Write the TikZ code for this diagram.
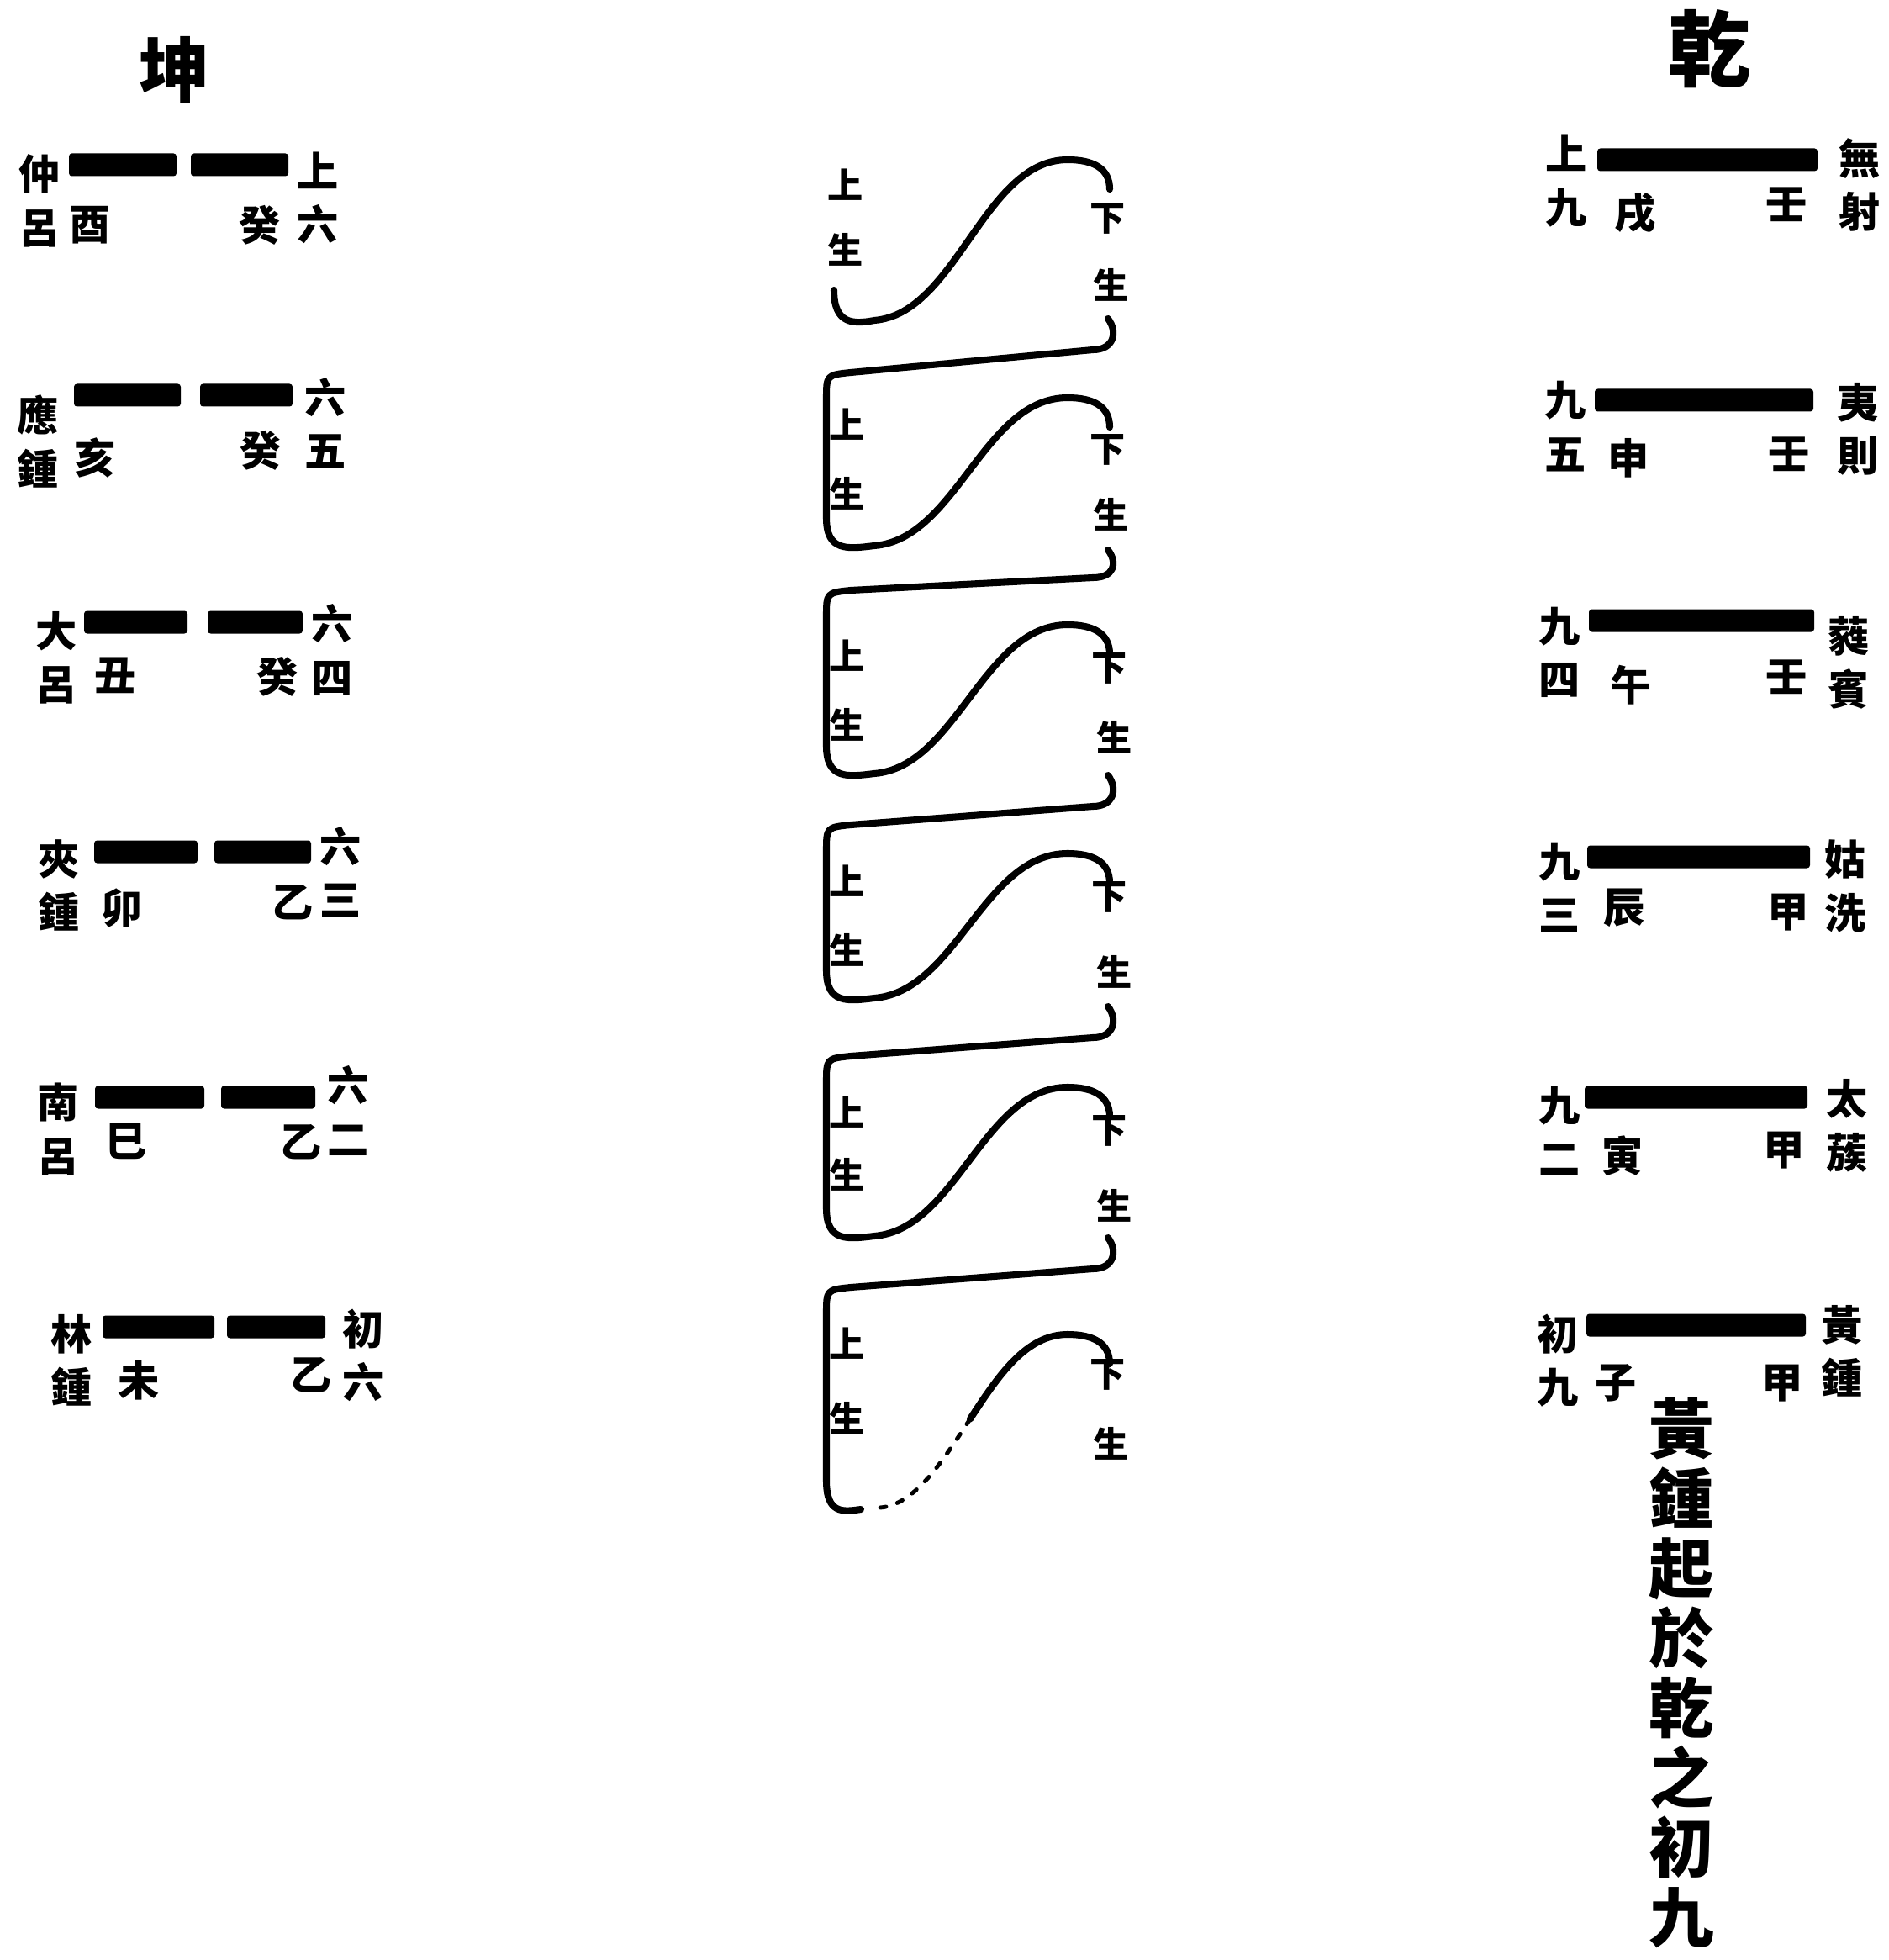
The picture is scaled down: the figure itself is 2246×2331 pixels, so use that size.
\documentclass[tikz,border=0pt]{standalone}
\usepackage{fontspec}
\newfontfamily\cjk{Noto Sans CJK TC}
\newcommand\yaobar[3]{\fill[bar] (#1,#3-13.5) rectangle (#2,#3+13.5);}
\newcommand\lvpiece[5]{% #1 Rt, #2 Hr, #3 Hl, #4 B, #5 P
  \draw[curve] (1318,#1) .. controls (1330,#1+16) and (1325,#2) .. (1300,#2)
    -- (1012,#3) .. controls (983,#3+3) .. (983,#3+32)
    -- (983,#4-35) .. controls (983,#4+5) and (1008,#4+2) .. (1040,#4-2)
    .. controls (1138,#4-10) and (1170,#5) .. (1270,#5)
    .. controls (1300,#5) and (1320,#5+10) .. (1320,#5+35);}
\begin{document}
\begin{tikzpicture}[x=0.1mm,y=-0.1mm,
  lbl/.style={font=\cjk\bfseries\fontsize{14pt}{18pt}\selectfont, inner sep=0pt, align=center},
  midl/.style={font=\cjk\bfseries\fontsize{12pt}{13pt}\selectfont, inner sep=0pt},
  ttl/.style={font=\cjk\bfseries\fontsize{24pt}{28pt}\selectfont, inner sep=0pt},
  bar/.style={fill=black, rounded corners=1pt},
  curve/.style={line width=2.3pt, line cap=round, line join=round}]
\useasboundingbox (0,0) rectangle (2246,2331);

% titles
\node[ttl] (kun) at (208,83) {坤};
\node[ttl, font=\cjk\bfseries\fontsize{28pt}{30pt}\selectfont] (qian) at (2034,58) {乾};

% ---- Kun column ----
\node[lbl] (kn1) at (47,239) {仲\\呂};
\node[lbl] (kz1) at (107,268) {酉};
\node[lbl] (kg1) at (309,268) {癸};
\node[lbl] (kp1) at (378,235) {上\\六};
\yaobar{82}{210}{196} \yaobar{227}{343}{196}

\node[lbl] (kn2) at (45,525) {應\\鍾};
\node[lbl] (kz2) at (113,544) {亥};
\node[lbl] (kg2) at (310,536) {癸};
\node[lbl] (kp2) at (387,503) {六\\五};
\yaobar{88}{215}{470} \yaobar{238}{348}{470}

\node[lbl] (kn3) at (67,782) {大\\呂};
\node[lbl] (kz3) at (137,803) {丑};
\node[lbl] (kg3) at (330,805) {癸};
\node[lbl] (kp3) at (395,773) {六\\四};
\yaobar{100}{223}{740} \yaobar{247}{360}{740}

\node[lbl] (kn4) at (70,1053) {夾\\鍾};
\node[lbl] (kz4) at (145,1080) {卯};
\node[lbl] (kg4) at (348,1073) {乙};
\node[lbl] (kp4) at (405,1037) {六\\三};
\yaobar{112}{235}{1013} \yaobar{255}{370}{1013}

\node[lbl] (kn5) at (69,1343) {南\\呂};
\node[lbl] (kz5) at (150,1358) {巳};
\node[lbl] (kg5) at (358,1358) {乙};
\node[lbl] (kp5) at (414,1321) {六\\二};
\yaobar{113}{243}{1305} \yaobar{263}{375}{1305}

\node[lbl] (kn6) at (85,1618) {林\\鍾};
\node[lbl] (kz6) at (165,1642) {未};
\node[lbl] (kg6) at (370,1635) {乙};
\node[lbl] (kp6) at (432,1612) {初\\六};
\yaobar{122}{255}{1578} \yaobar{270}{387}{1578}

% ---- Qian column ----
\node[lbl] (qp1) at (1863,215) {上\\九};
\node[lbl] (qz1) at (1945,253) {戌};
\node[lbl] (qg1) at (2125,243) {壬};
\node[lbl] (qn1) at (2212,220) {無\\射};
\yaobar{1900}{2162}{190}

\node[lbl] (qp2) at (1862,507) {九\\五};
\node[lbl] (qz2) at (1937,545) {申};
\node[lbl] (qg2) at (2128,540) {壬};
\node[lbl] (qn2) at (2210,510) {夷\\則};
\yaobar{1897}{2157}{476}

\node[lbl] (qp3) at (1855,776) {九\\四};
\node[lbl] (qz3) at (1940,815) {午};
\node[lbl] (qg3) at (2125,805) {壬};
\node[lbl] (qn3) at (2199,788) {蕤\\賓};
\yaobar{1890}{2158}{738}

\node[lbl] (qp4) at (1855,1055) {九\\三};
\node[lbl] (qz4) at (1932,1080) {辰};
\node[lbl] (qg4) at (2127,1085) {甲};
\node[lbl] (qn4) at (2195,1054) {姑\\洗};
\yaobar{1888}{2153}{1019}

\node[lbl] (qp5) at (1855,1345) {九\\二};
\node[lbl] (qz5) at (1930,1375) {寅};
\node[lbl] (qg5) at (2122,1368) {甲};
\node[lbl] (qn5) at (2197,1339) {太\\蔟};
\yaobar{1885}{2150}{1305}

\node[lbl] (qp6) at (1853,1618) {初\\九};
\node[lbl] (qz6) at (1922,1645) {子};
\node[lbl] (qg6) at (2120,1645) {甲};
\node[lbl] (qn6) at (2191,1607) {黃\\鍾};
\yaobar{1887}{2148}{1576}

\node[font=\cjk\bfseries\fontsize{22pt}{23.6pt}\selectfont, inner sep=0pt, align=center, anchor=north]
  (note) at (2000,1662) {黃\\鍾\\起\\於\\乾\\之\\初\\九};

% ---- middle labels ----
\node[midl] (a1) at (1006,220) {上}; \node[midl] (b1) at (1006,297) {生};
\node[midl] (c1) at (1318,260) {下}; \node[midl] (d1) at (1322,339) {生};
\node[midl] (a2) at (1008,505) {上}; \node[midl] (b2) at (1008,587) {生};
\node[midl] (c2) at (1318,535) {下}; \node[midl] (d2) at (1322,612) {生};
\node[midl] (a3) at (1008,780) {上}; \node[midl] (b3) at (1008,862) {生};
\node[midl] (c3) at (1320,795) {下}; \node[midl] (d3) at (1326,877) {生};
\node[midl] (a4) at (1008,1048) {上}; \node[midl] (b4) at (1008,1130) {生};
\node[midl] (c4) at (1320,1067) {下}; \node[midl] (d4) at (1326,1156) {生};
\node[midl] (a5) at (1008,1323) {上}; \node[midl] (b5) at (1008,1397) {生};
\node[midl] (c5) at (1320,1345) {下}; \node[midl] (d5) at (1326,1434) {生};
\node[midl] (a6) at (1008,1598) {上}; \node[midl] (b6) at (1008,1687) {生};
\node[midl] (c6) at (1318,1635) {下}; \node[midl] (d6) at (1322,1717) {生};

% ---- middle curves ----
\draw[curve] (992,345) .. controls (992,385) and (1014,386) .. (1040,381)
  .. controls (1138,373) and (1170,190) .. (1270,190)
  .. controls (1300,190) and (1320,200) .. (1320,225);
\lvpiece{379}{416}{443}{651}{473}
\lvpiece{654}{687}{702}{922}{743}
\lvpiece{922}{959}{981}{1189}{1015}
\lvpiece{1197}{1234}{1256}{1472}{1293}
\draw[curve] (1318,1472) .. controls (1330,1488) and (1325,1509) .. (1300,1509)
  -- (1012,1531) .. controls (983,1534) .. (983,1563)
  -- (983,1761) .. controls (983,1801) and (1003,1798) .. (1024,1795);
\draw[curve, line width=1.4pt, dash pattern=on 2pt off 4pt]
  (1047,1793) .. controls (1088,1790) and (1121,1738) .. (1154,1687.5);
\draw[curve] (1154,1687.5) .. controls (1187,1637) and (1220,1587) .. (1270,1587)
  .. controls (1300,1587) and (1320,1597) .. (1320,1622);
\end{tikzpicture}
\end{document}
